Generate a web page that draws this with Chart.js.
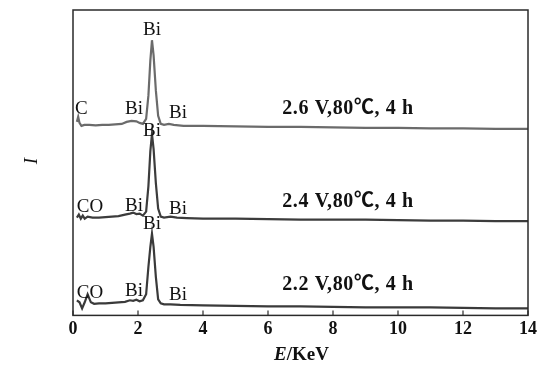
<!DOCTYPE html>
<html>
<head>
<meta charset="utf-8">
<script src="https://cdn.jsdelivr.net/npm/chart.js@4"></script>
<style>
  html, body { margin: 0; padding: 0; background: #fff; }
  #wrap { width: 541px; height: 370px; }
</style>
</head>
<body>
<div id="wrap"><canvas id="eds" width="541" height="370"></canvas></div>
<script>
// energies (keV) and stacked intensities (arbitrary units, offset per trace)
const energyTop = [0.12, 0.16, 0.2, 0.26, 0.35, 0.5, 0.7, 0.9, 1.1, 1.3, 1.5, 1.65, 1.8, 1.95, 2.05, 2.15, 2.25, 2.32, 2.38, 2.43, 2.48, 2.55, 2.62, 2.7, 2.8, 2.95, 3.1, 3.4, 4, 5, 6, 7, 8, 9, 10, 11, 12, 13, 14];
const countsTop = [192, 197, 191, 188, 189, 189, 188.5, 189, 189, 189.5, 190, 192, 193, 192.5, 191, 190, 195, 218, 253, 273, 258, 223, 198, 190, 189, 190, 189, 188, 188, 187.5, 187, 187, 186.5, 186, 186, 185.5, 185.5, 185, 185];

const energyMid = [0.12, 0.18, 0.24, 0.3, 0.36, 0.45, 0.6, 0.8, 1.0, 1.2, 1.4, 1.6, 1.75, 1.85, 1.95, 2.05, 2.15, 2.25, 2.32, 2.38, 2.43, 2.48, 2.55, 2.62, 2.7, 2.8, 3.0, 3.2, 3.5, 4, 5, 6, 7, 8, 9, 10, 11, 12, 13, 14];
const countsMid = [97, 100, 96, 99, 96, 98, 97, 97, 97.5, 98, 98.5, 100, 101, 102, 100.5, 101, 99, 103, 128, 163, 180, 165, 131, 106, 98, 97, 98, 97, 96.5, 96, 96, 95.5, 95, 95, 95, 94.5, 94, 94, 93.5, 93.5];

const energyLow = [0.12, 0.2, 0.28, 0.36, 0.45, 0.55, 0.65, 0.8, 1.0, 1.2, 1.4, 1.6, 1.75, 1.85, 1.95, 2.05, 2.15, 2.25, 2.32, 2.38, 2.43, 2.48, 2.55, 2.62, 2.7, 2.8, 3.0, 3.3, 4, 5, 6, 7, 8, 9, 10, 11, 12, 13, 14];
const countsLow = [15, 13, 7, 13, 21, 13, 11.5, 12, 12, 12.5, 13, 13.5, 15, 14.5, 15.5, 14, 15, 21, 48, 68, 81, 68, 38, 16, 12, 11, 11, 10.5, 10, 9.5, 9, 9, 8.5, 8, 8, 8, 7.5, 7, 7];

const xTicks = [0, 2, 4, 6, 8, 10, 12, 14];

// peak labels: [text, energy, intensity]
const peakLabels = [
  ['Bi', 2.43, 283], ['C', 0.26, 205], ['Bi', 1.88, 205], ['Bi', 3.23, 201],
  ['Bi', 2.43, 183], ['CO', 0.52, 108], ['Bi', 1.88, 109], ['Bi', 3.23, 106],
  ['Bi', 2.43, 91], ['CO', 0.52, 22], ['Bi', 1.88, 24], ['Bi', 3.23, 20]
];
const conditions = [
  ['2.6 V,80\u2103, 4 h', 8.46, 205],
  ['2.4 V,80\u2103, 4 h', 8.46, 113],
  ['2.2 V,80\u2103, 4 h', 8.46, 30]
];

const serif = '"Liberation Serif", "Times New Roman", "Noto Sans CJK SC", serif';

function toXY(xs, ys) {
  return xs.map((x, i) => ({ x: x, y: ys[i] }));
}

const decorations = {
  id: 'decorations',
  afterDraw(chart) {
    const ctx = chart.ctx;
    const area = chart.chartArea;
    const xs = chart.scales.x;
    const ys = chart.scales.y;
    ctx.save();

    // frame
    ctx.strokeStyle = '#2a2a2a';
    ctx.lineWidth = 1.5;
    ctx.strokeRect(area.left, area.top, area.right - area.left, area.bottom - area.top);

    // inward ticks on bottom axis
    ctx.lineWidth = 1.2;
    xTicks.forEach(v => {
      const px = xs.getPixelForValue(v);
      ctx.beginPath();
      ctx.moveTo(px, area.bottom);
      ctx.lineTo(px, area.bottom - 5);
      ctx.stroke();
    });

    // element labels
    ctx.fillStyle = '#111';
    ctx.textAlign = 'center';
    ctx.textBaseline = 'middle';
    ctx.font = '19px ' + serif;
    peakLabels.forEach(([t, e, v]) => {
      ctx.fillText(t, xs.getPixelForValue(e), ys.getPixelForValue(v));
    });

    // conditions
    ctx.font = '600 20px ' + serif;
    ctx.letterSpacing = '0.6px';
    conditions.forEach(([t, e, v]) => {
      ctx.fillText(t, xs.getPixelForValue(e), ys.getPixelForValue(v));
    });
    ctx.letterSpacing = '0px';

    // x title: italic E + /KeV
    const midX = (area.left + area.right) / 2 + 1;
    ctx.textAlign = 'left';
    ctx.font = 'italic bold 19px ' + serif;
    const wE = ctx.measureText('E').width;
    ctx.font = 'bold 19px ' + serif;
    const wRest = ctx.measureText('/KeV').width;
    const startX = midX - (wE + wRest) / 2;
    ctx.font = 'italic bold 19px ' + serif;
    ctx.fillText('E', startX, 355);
    ctx.font = 'bold 19px ' + serif;
    ctx.fillText('/KeV', startX + wE, 355);

    // y title: rotated italic I
    ctx.translate(32, 161);
    ctx.rotate(-Math.PI / 2);
    ctx.textAlign = 'center';
    ctx.font = 'italic 19px ' + serif;
    ctx.fillText('I', 0, 0);
    ctx.restore();
  }
};

new Chart(document.getElementById('eds').getContext('2d'), {
  type: 'line',
  data: {
    datasets: [
      { data: toXY(energyTop, countsTop), borderColor: '#6b6b6b', borderWidth: 2.2 },
      { data: toXY(energyMid, countsMid), borderColor: '#3c3c3c', borderWidth: 2.2 },
      { data: toXY(energyLow, countsLow), borderColor: '#3a3a3a', borderWidth: 2.2 }
    ]
  },
  options: {
    responsive: false,
    animation: false,
    events: [],
    elements: { point: { radius: 0 }, line: { tension: 0 } },
    layout: { padding: { left: 73, right: 13, top: 10, bottom: 27 } },
    plugins: { legend: { display: false }, tooltip: { enabled: false } },
    scales: {
      x: {
        type: 'linear',
        min: 0,
        max: 14,
        afterBuildTicks: axis => { axis.ticks = xTicks.map(v => ({ value: v })); },
        grid: { display: false, drawTicks: false },
        border: { display: false },
        ticks: { padding: 3, color: '#111', font: { family: serif, size: 18, weight: 'bold' } }
      },
      y: {
        display: false,
        min: 0,
        max: 303
      }
    }
  },
  plugins: [decorations]
});
</script>
</body>
</html>
